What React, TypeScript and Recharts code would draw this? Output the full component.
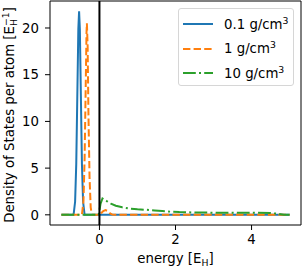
import { Legend, Line, LineChart, ReferenceArea, ReferenceLine, XAxis, YAxis } from "recharts";

// energy grid [E_H] and DOS [1/E_H]
const energyLow = [-1.0, -0.68, -0.64, -0.61, -0.58, -0.555, -0.535, -0.515, -0.49, -0.46, -0.43, -0.39, 0.0, 5.0];
const dosLow = [0, 0, 1.4, 5.4, 13.2, 19.9, 21.8, 19.9, 13.2, 5.4, 1.4, 0, 0, 0];

const energyMid = [-1.0, -0.46, -0.42, -0.39, -0.36, -0.34, -0.33, -0.31, -0.29, -0.26, -0.23, -0.2, 0.0, 0.05, 0.1, 0.16, 0.22, 0.28, 0.34, 0.4, 5.0];
const dosMid = [0, 0, 1.5, 6, 14, 19.5, 20.5, 18, 11, 4, 0.8, 0, 0, 0.2, 0.4, 0.5, 0.4, 0.15, 0.02, 0, 0];

const energyHigh = [-1.0, -0.02, 0.03, 0.08, 0.12, 0.2, 0.3, 0.43, 0.6, 0.78, 1.0, 1.22, 1.45, 1.65, 1.9, 2.1, 2.5, 3.0, 3.5, 4.0, 4.5, 4.7, 4.85, 5.0];
const dosHigh = [0, 0, 1.2, 1.75, 1.65, 1.45, 1.2, 0.97, 0.8, 0.68, 0.6, 0.54, 0.46, 0.4, 0.33, 0.29, 0.25, 0.23, 0.22, 0.22, 0.2, 0.1, 0.02, 0];

const densities = ["0.1", "1", "10"];
const xTicks = [0, 2, 4];
const yTicks = [0, 5, 10, 15, 20];

const X_DOMAIN: [number, number] = [-1.3, 5.3];
const Y_DOMAIN: [number, number] = [-1.09, 22.89];

const FONT = "DejaVu Sans";

const toPoints = (xs: number[], ys: number[]) => xs.map((x, i) => ({ x, y: ys[i] }));

const series = [
    { label: densities[0], color: "#1f77b4", dash: undefined, data: toPoints(energyLow, dosLow) },
    { label: densities[1], color: "#ff7f0e", dash: "7.4 3.2", data: toPoints(energyMid, dosMid) },
    { label: densities[2], color: "#2ca02c", dash: "12.8 3.2 2 3.2", data: toPoints(energyHigh, dosHigh) },
];

const YLabel = ({ viewBox }: { viewBox?: { x: number; y: number; width: number; height: number } }) => {
    const cy = (viewBox?.y ?? 0) + (viewBox?.height ?? 0) / 2 + 2;
    return (
        <text transform="rotate(-90)" x={-cy} y={14} textAnchor="middle" fontSize={13.3} fontFamily={FONT} fill="#000">
            <tspan>Density of States per atom [E</tspan>
            <tspan fontSize={9.3} dy={3}>H</tspan>
            <tspan fontSize={9.3} dx={-7} dy={-8.5}>−1</tspan>
            <tspan dy={5.5}>]</tspan>
        </text>
    );
};

const XLabel = ({ viewBox }: { viewBox?: { x: number; y: number; width: number; height: number } }) => {
    const cx = (viewBox?.x ?? 0) + (viewBox?.width ?? 0) / 2;
    return (
        <text x={cx} y={(viewBox?.y ?? 0) + 38} textAnchor="middle" fontSize={13.3} fontFamily={FONT} fill="#000">
            <tspan>energy [E</tspan>
            <tspan fontSize={9.3} dy={3}>H</tspan>
            <tspan dy={-3}>]</tspan>
        </text>
    );
};

const LegendBox = () => (
    <div
        style={{
            width: 116,
            height: 78,
            boxSizing: "border-box",
            border: "1px solid #d6d6d6",
            borderRadius: 3,
            background: "rgba(255,255,255,0.8)",
            paddingTop: 3,
            fontFamily: FONT,
            fontSize: 13.3,
            color: "#000",
        }}
    >
        {series.map((s) => (
            <div key={s.label} style={{ display: "flex", alignItems: "center", height: 24.5 }}>
                <svg width={30} height={6} style={{ marginLeft: 4, marginRight: 11 }}>
                    <line x1={0} y1={3} x2={30} y2={3} stroke={s.color} strokeWidth={2} strokeDasharray={s.dash} />
                </svg>
                <span style={{ whiteSpace: "nowrap" }}>
                    {s.label} g/cm<sup style={{ fontSize: 9.3, verticalAlign: "0.5em", lineHeight: 0 }}>3</sup>
                </span>
            </div>
        ))}
    </div>
);

export default function App() {
    return (
        <div style={{ position: "absolute", left: 0, top: 0, width: 302, height: 269, background: "#fff" }}>
            <LineChart width={302} height={269} margin={{ top: 1, right: 1, bottom: 0, left: 0 }}>
                <XAxis
                    type="number"
                    dataKey="x"
                    domain={X_DOMAIN}
                    ticks={xTicks}
                    allowDataOverflow
                    height={44}
                    axisLine={false}
                    tickLine={{ stroke: "#000", strokeWidth: 1 }}
                    tickSize={5}
                    tickMargin={5}
                    tick={{ fill: "#000", fontSize: 13.3, fontFamily: FONT }}
                    label={<XLabel />}
                />
                <YAxis
                    type="number"
                    dataKey="y"
                    domain={Y_DOMAIN}
                    ticks={yTicks}
                    allowDataOverflow
                    width={50}
                    axisLine={false}
                    tickLine={{ stroke: "#000", strokeWidth: 1 }}
                    tickSize={5}
                    tickMargin={6}
                    tick={{ fill: "#000", fontSize: 13.3, fontFamily: FONT }}
                    label={<YLabel />}
                />
                {series.map((s) => (
                    <Line
                        key={s.label}
                        data={s.data}
                        dataKey="y"
                        type="linear"
                        stroke={s.color}
                        strokeWidth={2}
                        strokeDasharray={s.dash}
                        dot={false}
                        activeDot={false}
                        isAnimationActive={false}
                    />
                ))}
                <ReferenceLine x={0} stroke="#000" strokeWidth={2} />
                <ReferenceArea
                    x1={X_DOMAIN[0]}
                    x2={X_DOMAIN[1]}
                    y1={Y_DOMAIN[0]}
                    y2={Y_DOMAIN[1]}
                    fill="none"
                    stroke="#000"
                    strokeWidth={1}
                    ifOverflow="visible"
                />
                <Legend
                    layout="vertical"
                    align="center"
                    verticalAlign="middle"
                    content={<LegendBox />}
                    wrapperStyle={{ position: "absolute", left: 178, top: 8, width: 116 }}
                />
            </LineChart>
        </div>
    );
}
